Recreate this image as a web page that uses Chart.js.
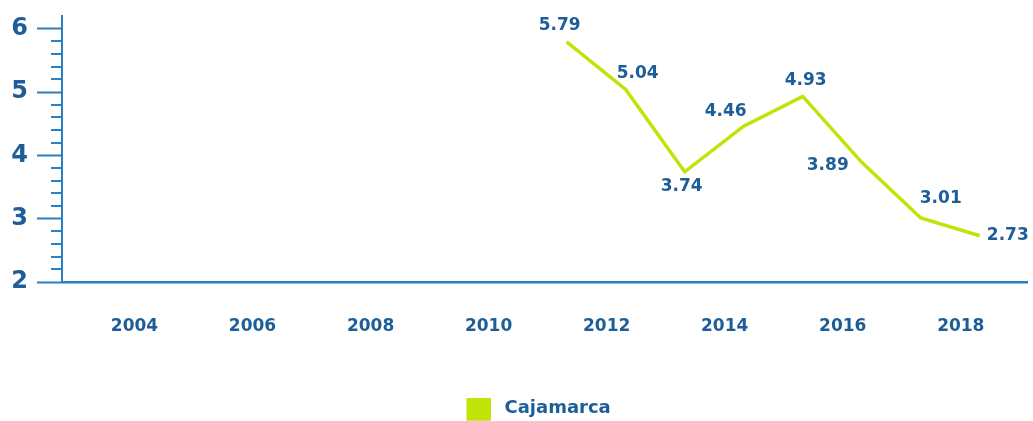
<!DOCTYPE html>
<html>
<head>
<meta charset="utf-8">
<script src="https://cdn.jsdelivr.net/npm/chart.js@4.4.1/dist/chart.umd.min.js"></script>
<style>
  html, body { margin: 0; padding: 0; background: #fff; }
  #wrap { width: 1033px; height: 421px; }
</style>
</head>
<body>
<div id="wrap"><canvas id="chart"></canvas></div>
<script>
// data
const years = [2011, 2012, 2013, 2014, 2015, 2016, 2017, 2018];
const cajamarca = [5.79, 5.04, 3.74, 4.46, 4.93, 3.89, 3.01, 2.73];
const xTickYears = [2004, 2006, 2008, 2010, 2012, 2014, 2016, 2018];
const yTickValues = [2, 3, 4, 5, 6];
const seriesName = 'Cajamarca';

// where each value label sits relative to its point (px)
const labelOffsets = [[-7, -16], [12, -16], [-3, 15], [-18, -15], [3, -16], [-34, 3], [20, -19], [28, 0]];

const BLUE = '#2a7fc2';
const TEXT = '#1d5e98';
const GREEN = '#c0e408';
const FONT = "'DejaVu Sans', sans-serif";

// minor ticks every 0.2 on the y axis
const minorTicks = {
  id: 'minorTicks',
  afterDraw(chart) {
    const y = chart.scales.y;
    const ctx = chart.ctx;
    const left = chart.chartArea.left;
    ctx.save();
    ctx.strokeStyle = BLUE;
    ctx.lineWidth = 2;
    for (let i = 1; i < 20; i++) {
      if (i % 5 === 0) continue;
      const py = Math.round(y.getPixelForValue(2 + i * 0.2));
      ctx.beginPath();
      ctx.moveTo(left - 11, py);
      ctx.lineTo(left, py);
      ctx.stroke();
    }
    ctx.restore();
  }
};

// value labels next to the points
const valueLabels = {
  id: 'valueLabels',
  afterDatasetsDraw(chart) {
    const ctx = chart.ctx;
    const meta = chart.getDatasetMeta(0);
    ctx.save();
    ctx.font = 'bold 17px ' + FONT;
    ctx.fillStyle = TEXT;
    ctx.textAlign = 'center';
    ctx.textBaseline = 'middle';
    meta.data.forEach((pt, i) => {
      const off = labelOffsets[i];
      ctx.fillText(cajamarca[i].toFixed(2), pt.x + off[0], pt.y + off[1]);
    });
    ctx.restore();
  }
};

// legend sits a bit right of centre in the original
const legendShift = {
  id: 'legendShift',
  afterLayout(chart) {
    chart.legend.left += 26;
    chart.legend.right += 26;
  }
};

new Chart(document.getElementById('chart'), {
  type: 'line',
  data: {
    datasets: [{
      label: seriesName,
      data: years.map((yr, i) => ({ x: yr, y: cajamarca[i] })),
      borderColor: GREEN,
      backgroundColor: GREEN,
      borderWidth: 3.5,
      pointRadius: 0,
      tension: 0,
    }],
  },
  options: {
    responsive: true,
    maintainAspectRatio: false,
    animation: false,
    layout: { padding: { left: 0, right: 6, top: 16, bottom: -8 } },
    plugins: {
      legend: {
        position: 'bottom',
        labels: {
          boxWidth: 21,
          boxHeight: 21,
          padding: 0,
          color: TEXT,
          font: { family: FONT, size: 18, weight: 'bold' },
          generateLabels: (chart) => Chart.defaults.plugins.legend.labels.generateLabels(chart)
            .map(item => Object.assign(item, { text: ' ' + item.text })),
        },
      },
      tooltip: { enabled: false },
    },
    scales: {
      x: {
        type: 'linear',
        min: 2002.45,
        max: 2018.8,
        afterBuildTicks: (scale) => { scale.ticks = xTickYears.map(v => ({ value: v })); },
        afterFit: (scale) => { scale.height = 116; scale.paddingLeft = 0; scale.paddingRight = 0; },
        grid: { drawOnChartArea: false, drawTicks: false },
        border: { color: BLUE, width: 2.5 },
        ticks: {
          padding: 34,
          labelOffset: -19,
          maxRotation: 0,
          autoSkip: false,
          color: TEXT,
          font: { family: FONT, size: 17, weight: 'bold' },
          callback: (v) => String(v),
        },
      },
      y: {
        min: 2,
        max: 6.2,
        afterBuildTicks: (scale) => { scale.ticks = yTickValues.map(v => ({ value: v })); },
        afterFit: (scale) => { scale.width = 62; scale.paddingTop = 0; scale.paddingBottom = 0; },
        grid: { drawOnChartArea: false, tickLength: 25, tickColor: BLUE, tickWidth: 2 },
        border: { color: BLUE, width: 2 },
        ticks: {
          padding: 9,
          color: TEXT,
          font: { family: FONT, size: 24, weight: 'bold' },
        },
      },
    },
  },
  plugins: [minorTicks, valueLabels, legendShift],
});
</script>
</body>
</html>
